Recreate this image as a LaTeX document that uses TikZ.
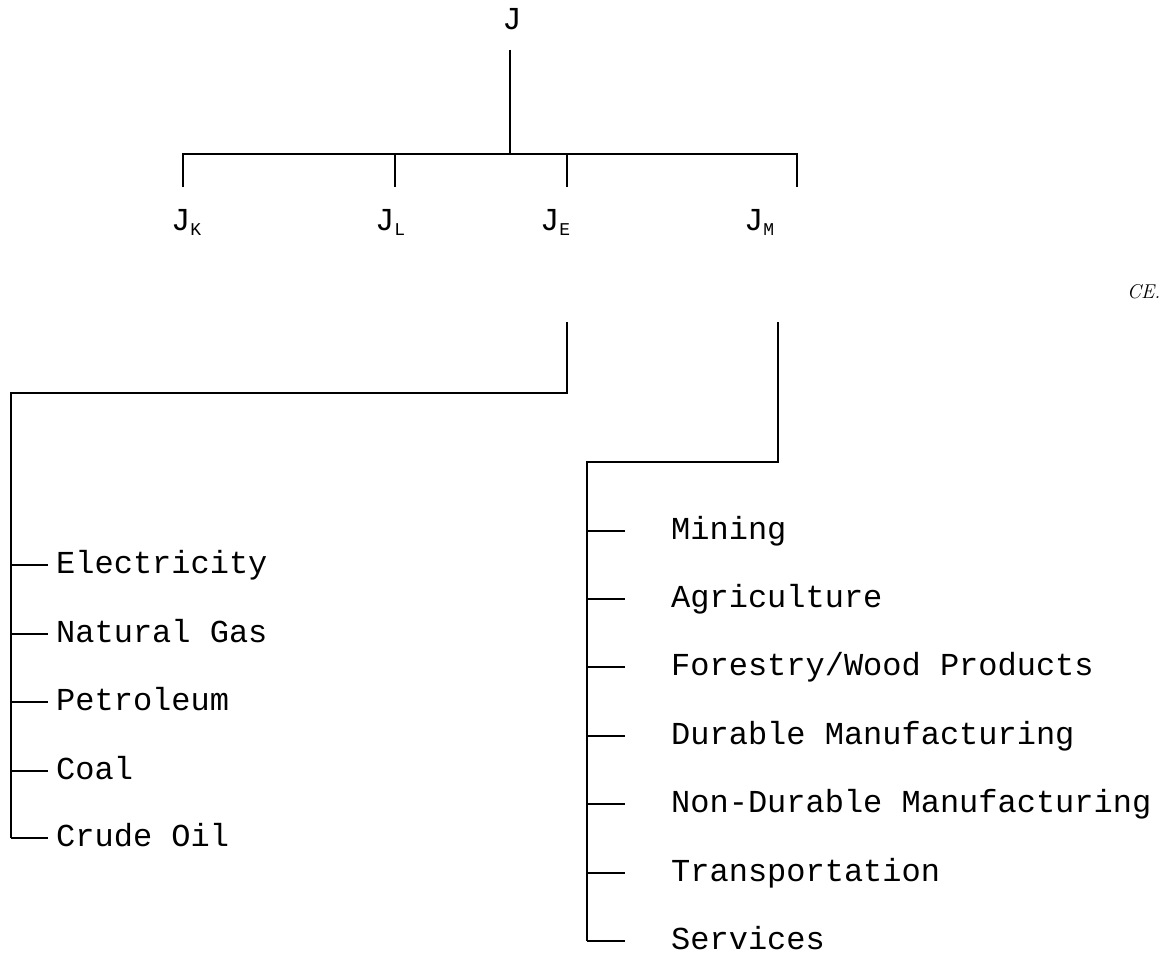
\documentclass[tikz,border=0pt]{standalone}
\usepackage{fontspec}
\newfontfamily\monofnt{Liberation Mono}
\begin{document}
\begin{tikzpicture}[x=1pt,y=-1pt,
  wire/.style={line width=1.2pt,black},
  lbl/.style={font=\monofnt\fontsize{32}{36}\selectfont,inner sep=0pt,anchor=base west},
  jlbl/.style={font=\monofnt\fontsize{32}{36}\selectfont,inner sep=0pt,anchor=base west},
  note/.style={font=\fontsize{20}{22}\selectfont\itshape,inner sep=0pt,anchor=base west}]
\useasboundingbox (0,0) rectangle (1161,955);
\newcommand{\sbs}[1]{\raisebox{-5pt}{\fontsize{18}{18}\selectfont #1}}
% labels
\node[jlbl,anchor=base] (J) at (512,30) {J};
\node[jlbl] (JK) at (171,230) {J\sbs{K}};
\node[jlbl] (JL) at (375,230) {J\sbs{L}};
\node[jlbl] (JE) at (540,230) {J\sbs{E}};
\node[jlbl] (JM) at (744,230) {J\sbs{M}};
\node[note] (CE) at (1127,298) {CE.};
% top tree
\coordinate (jt) at (510,50);
\coordinate (jb) at (510,154);
\coordinate (kt) at (183,154); \coordinate (kb) at (183,187);
\coordinate (lt) at (395,154); \coordinate (lb) at (395,187);
\coordinate (et) at (567,154); \coordinate (eb) at (567,187);
\coordinate (mt) at (797,154); \coordinate (mb) at (797,187);
\draw[wire] (jt) -- (jb);
\draw[wire] (kb) -- (kt) -- (mt) -- (mb);
\draw[wire] (lt) -- (lb);
\draw[wire] (et) -- (eb);
% energy branch
\coordinate (e1) at (567,322);
\coordinate (e2) at (567,393);
\coordinate (e3) at (11,393);
\coordinate (e4) at (11,838);
\draw[wire] (e1) -- (e2) -- (e3) -- (e4);
% materials branch
\coordinate (m1) at (778,322);
\coordinate (m2) at (778,462);
\coordinate (m3) at (587,462);
\coordinate (m4) at (587,941);
\draw[wire] (m1) -- (m2) -- (m3) -- (m4);
% energy items
\foreach \n/\y/\t in {el/565/Electricity, ng/634/Natural Gas, pe/702/Petroleum, co/771/Coal, cr/838/Crude Oil}{
  \coordinate (\n a) at (11,\y);
  \node[lbl] (\n) at (56,\y+8.5) {\t};
  \draw[wire] (\n a) -- (48,\y);
}
% materials items
\foreach \n/\y/\t in {mi/531/Mining, ag/599/Agriculture, fo/667/{Forestry/Wood Products}, du/736/Durable Manufacturing, nd/804/Non-Durable Manufacturing, tr/873/Transportation, se/941/Services}{
  \coordinate (\n a) at (587,\y);
  \node[lbl] (\n) at (671,\y+8.5) {\t};
  \draw[wire] (\n a) -- (625,\y);
}
\end{tikzpicture}
\end{document}
